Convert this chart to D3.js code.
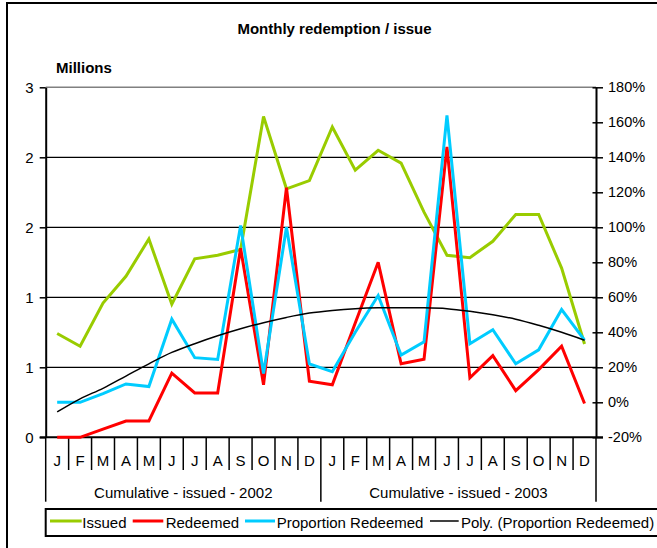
<!DOCTYPE html>
<html>
<head>
<meta charset="utf-8">
<script src="https://cdn.jsdelivr.net/npm/d3@7"></script>
<style>
  html, body { margin: 0; padding: 0; background: #fff; }
  svg { display: block; font-family: "Liberation Sans", Arial, sans-serif; }
</style>
</head>
<body>
<svg id="chart" width="657" height="548"></svg>
<script>
// Month letters and the two issue years shown along the category axis
const months = ["J","F","M","A","M","J","J","A","S","O","N","D"];
const years = ["2002", "2003"];
const yearLabels = ["Cumulative - issued - 2002", "Cumulative - issued - 2003"];

// Monthly volumes, millions (left axis)
const issued = [0.89, 0.78, 1.15, 1.38, 1.70, 1.14, 1.53, 1.56, 1.61, 2.75, 2.13, 2.20,
                2.66, 2.29, 2.46, 2.35, 1.93, 1.56, 1.54, 1.68, 1.91, 1.91, 1.45, 0.80];
const redeemed = [0.00, 0.00, 0.07, 0.14, 0.14, 0.55, 0.38, 0.38, 1.62, 0.45, 2.14, 0.48,
                  0.45, 0.98, 1.50, 0.63, 0.67, 2.49, 0.51, 0.70, 0.40, 0.58, 0.78, 0.29];

// Share redeemed, percent (right axis)
const proportion = [0, 0, 5, 10.5, 9, 47.5, 25.5, 24.5, 101, 16.5, 100, 22,
                    17.5, 40, 61, 27, 34.5, 164, 33.5, 41.5, 22, 30, 53, 35.5];
// Polynomial trend of the share redeemed, percent
const trend = [-5.5, 2, 8, 15, 22, 28.5, 33.5, 38, 42, 45.5, 48.5, 51,
               52.5, 53.5, 54, 54, 54, 53.5, 52, 50, 47.5, 44, 40, 35.5];

// Axis tick values
const leftTicks = [0, 0.6, 1.2, 1.8, 2.4, 3.0];
const rightTicks = [-20, 0, 20, 40, 60, 80, 100, 120, 140, 160, 180];

const series = [
  { name: "Issued", values: issued, axis: "left", color: "#99CC00", width: 3 },
  { name: "Redeemed", values: redeemed, axis: "left", color: "#FF0000", width: 3 },
  { name: "Proportion Redeemed", values: proportion, axis: "right", color: "#00CCFF", width: 3 },
  { name: "Poly. (Proportion Redeemed)", values: trend, axis: "right", color: "#000000", width: 1.5, smooth: true }
];

const svg = d3.select("#chart");
const FONT = 15;

const plot = { left: 45.7, right: 596, top: 87.3, bottom: 437.3 };

const keys = years.flatMap(y => months.map((m, i) => y + "-" + i));
const x = d3.scaleBand().domain(keys).range([plot.left, plot.right]).padding(0);
const xc = i => x(keys[i]) + x.bandwidth() / 2;
const yL = d3.scaleLinear().domain([0, 3]).range([plot.bottom, plot.top]);
const yR = d3.scaleLinear().domain([-20, 180]).range([plot.bottom, plot.top]);

// Outer chart frame
svg.append("rect")
  .attr("x", 7).attr("y", 3).attr("width", 680).attr("height", 580)
  .attr("fill", "none").attr("stroke", "#000").attr("stroke-width", 2);

// Title and unit label
svg.append("text")
  .attr("x", 334.5).attr("y", 28).attr("text-anchor", "middle")
  .attr("dominant-baseline", "central")
  .attr("font-size", FONT).attr("font-weight", "bold")
  .text("Monthly redemption / issue");
svg.append("text")
  .attr("x", 56).attr("y", 67).attr("dominant-baseline", "central")
  .attr("font-size", FONT).attr("font-weight", "bold")
  .text("Millions");

// Plot area outline (top edge visible in grey)
svg.append("line")
  .attr("x1", plot.left).attr("x2", plot.right)
  .attr("y1", yL(3)).attr("y2", yL(3))
  .attr("stroke", "#808080").attr("stroke-width", 1.5);

// Horizontal gridlines on the left-axis ticks
svg.append("g").selectAll("line")
  .data(leftTicks.filter(v => v > 0 && v < 3))
  .join("line")
  .attr("x1", plot.left).attr("x2", plot.right)
  .attr("y1", d => yL(d)).attr("y2", d => yL(d))
  .attr("stroke", "#000").attr("stroke-width", 1.3);

// Left axis
const gL = svg.append("g").attr("transform", `translate(${plot.left},0)`)
  .call(d3.axisLeft(yL).tickValues(leftTicks).tickFormat(d3.format(".0f"))
    .tickSize(6).tickSizeOuter(0).tickPadding(6));
gL.select(".domain").attr("stroke-width", 2);
gL.selectAll(".tick line").attr("stroke-width", 1.5);
gL.selectAll("text").attr("font-size", FONT).attr("font-family", "Liberation Sans, Arial, sans-serif").attr("fill", "#000");

// Right axis (ticks cross the axis line)
const gR = svg.append("g").attr("transform", `translate(${plot.right},0)`)
  .call(d3.axisRight(yR).tickValues(rightTicks).tickFormat(d => d + "%")
    .tickSize(7).tickSizeOuter(0).tickPadding(5));
gR.select(".domain").attr("stroke-width", 2);
gR.selectAll(".tick line").attr("x1", -3.5).attr("stroke-width", 1.5);
gR.selectAll("text").attr("font-size", FONT - 0.5).attr("font-family", "Liberation Sans, Arial, sans-serif").attr("fill", "#000");

// Category axis: month letters
const gB = svg.append("g").attr("transform", `translate(0,${plot.bottom})`)
  .call(d3.axisBottom(x).tickSize(0).tickPadding(18.5)
    .tickFormat(k => months[+k.split("-")[1]]));
gB.select(".domain").remove();
gB.selectAll("text").attr("font-size", FONT).attr("font-family", "Liberation Sans, Arial, sans-serif").attr("fill", "#000");

// Month dividers, with longer dividers between years
const bounds = keys.map(k => x(k)).concat([plot.right]);
svg.append("g").selectAll("line")
  .data(bounds)
  .join("line")
  .attr("x1", d => d).attr("x2", d => d)
  .attr("y1", plot.bottom)
  .attr("y2", (d, i) => (i % 12 === 0) ? 501.7 : 470)
  .attr("stroke", "#000").attr("stroke-width", 1.5);

// Year group labels
svg.append("g").selectAll("text")
  .data(years)
  .join("text")
  .attr("x", (d, i) => (x(keys[i * 12]) + bounds[(i + 1) * 12]) / 2)
  .attr("y", 492.7)
  .attr("text-anchor", "middle").attr("dominant-baseline", "central")
  .attr("font-size", FONT)
  .text((d, i) => yearLabels[i]);

// Category axis line
svg.append("line")
  .attr("x1", plot.left - 6).attr("x2", plot.right + 7)
  .attr("y1", plot.bottom).attr("y2", plot.bottom)
  .attr("stroke", "#000").attr("stroke-width", 2);

// Series lines
series.forEach(s => {
  const yScale = s.axis === "left" ? yL : yR;
  const line = d3.line()
    .x((d, i) => xc(i))
    .y(d => yScale(d))
    .curve(s.smooth ? d3.curveCatmullRom : d3.curveLinear);
  svg.append("path")
    .datum(s.values)
    .attr("d", line)
    .attr("fill", "none")
    .attr("stroke", s.color)
    .attr("stroke-width", s.width)
    .attr("stroke-linejoin", "miter")
    .attr("stroke-miterlimit", 3);
});

// Legend
const legendY = 522.5;
svg.append("rect")
  .attr("x", 45.7).attr("y", 509).attr("width", 700).attr("height", 27)
  .attr("fill", "#fff").attr("stroke", "#000").attr("stroke-width", 2);
const legendPos = [
  { x1: 50, x2: 81.7, tx: 82.3 },
  { x1: 132.7, x2: 163.3, tx: 165.7 },
  { x1: 245, x2: 275, tx: 276.7 },
  { x1: 430, x2: 458.7, tx: 461 }
];
const lg = svg.append("g").selectAll("g").data(series).join("g");
lg.append("line")
  .attr("x1", (d, i) => legendPos[i].x1).attr("x2", (d, i) => legendPos[i].x2)
  .attr("y1", legendY - 1.5).attr("y2", legendY - 1.5)
  .attr("stroke", d => d.color).attr("stroke-width", d => d.width);
lg.append("text")
  .attr("x", (d, i) => legendPos[i].tx).attr("y", legendY)
  .attr("dominant-baseline", "central")
  .attr("font-size", FONT)
  .text(d => d.name);
</script>
</body>
</html>
